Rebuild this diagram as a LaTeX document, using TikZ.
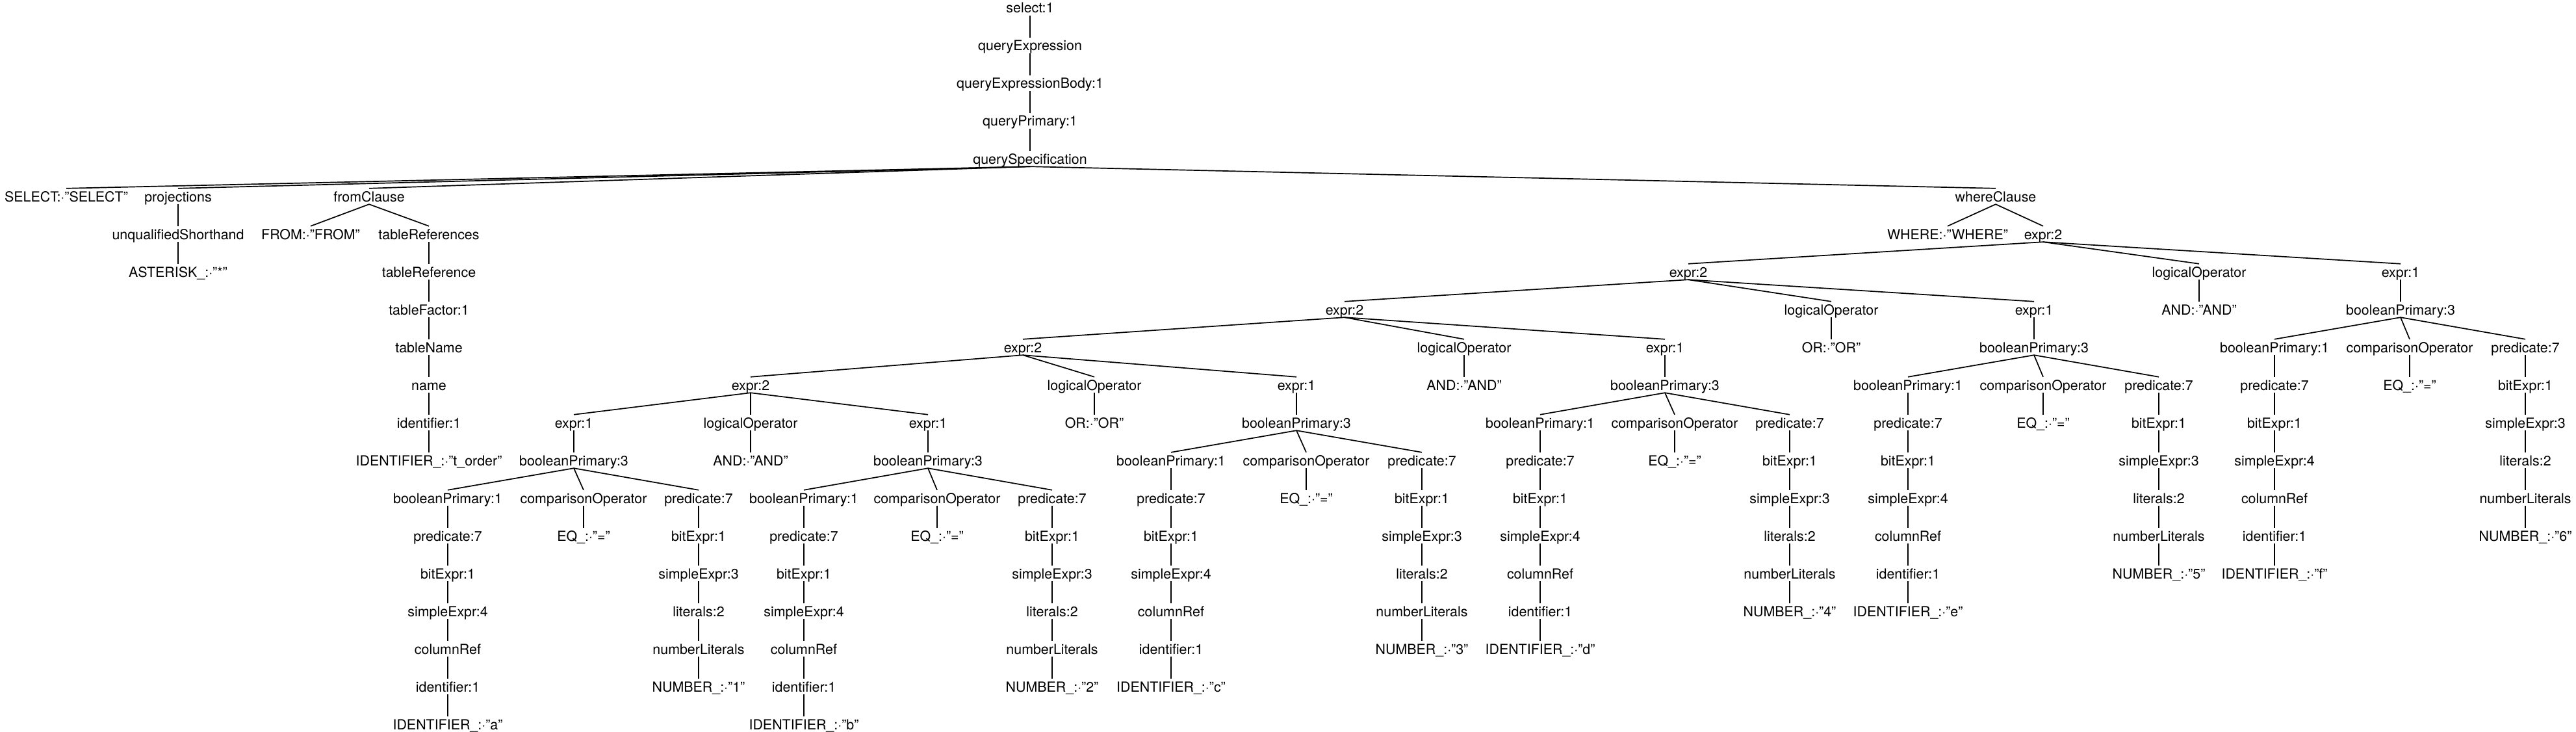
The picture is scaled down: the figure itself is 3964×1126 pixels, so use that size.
\documentclass[tikz,border=0pt]{standalone}
\usepackage{fontspec}
\setmainfont{TeX Gyre Heros}
\tikzset{
  lbl/.style={anchor=base, inner sep=0pt, text height=20pt, text depth=4pt,
    font=\fontsize{21.4pt}{24pt}\selectfont},
  edg/.style={line width=1.7pt, black}
}
\newcommand\lnk[2]{\draw[edg] (#1.south) -- (#2.north);}
\newcommand\mkgroup[8]{%
  \node[lbl] (#1bp) at (#2,{20+58*(#5)}) {booleanPrimary:1};
  \node[lbl] (#1pa) at (#2,{20+58*(#5+1)}) {predicate:7};
  \node[lbl] (#1ba) at (#2,{20+58*(#5+2)}) {bitExpr:1};
  \node[lbl] (#1sa) at (#2,{20+58*(#5+3)}) {simpleExpr:4};
  \node[lbl] (#1cr) at (#2,{20+58*(#5+4)}) {columnRef};
  \node[lbl] (#1id) at (#2,{20+58*(#5+5)}) {identifier:1};
  \node[lbl] (#1ID) at (#2,{20+58*(#5+6)}) {IDENTIFIER\_:·"#6"};
  \node[lbl] (#1co) at (#3,{20+58*(#5)}) {comparisonOperator};
  \node[lbl] (#1eq) at (#3,{20+58*(#5+1)}) {EQ\_:·"="};
  \node[lbl] (#1pb) at (#4,{20+58*(#5)}) {predicate:7};
  \node[lbl] (#1bb) at (#4,{20+58*(#5+1)}) {bitExpr:1};
  \node[lbl] (#1sb) at (#4,{20+58*(#5+2)}) {simpleExpr:3};
  \node[lbl] (#1li) at (#4,{20+58*(#5+3)}) {literals:2};
  \node[lbl] (#1nl) at (#4,{20+58*(#5+4)}) {numberLiterals};
  \node[lbl] (#1NU) at (#4,{20+58*(#5+5)}) {NUMBER\_:·"#7"};
  \lnk{#8}{#1bp}\lnk{#8}{#1co}\lnk{#8}{#1pb}
  \lnk{#1bp}{#1pa}\lnk{#1pa}{#1ba}\lnk{#1ba}{#1sa}\lnk{#1sa}{#1cr}\lnk{#1cr}{#1id}\lnk{#1id}{#1ID}
  \lnk{#1co}{#1eq}
  \lnk{#1pb}{#1bb}\lnk{#1bb}{#1sb}\lnk{#1sb}{#1li}\lnk{#1li}{#1nl}\lnk{#1nl}{#1NU}
}
\begin{document}
\begin{tikzpicture}[x=1pt,y=-1pt]
\useasboundingbox (0,0) rectangle (3964,1126);
\fill[white] (0,0) rectangle (3964,1126);
% top chain
\node[lbl] (q0) at (1585,20) {select:1};
\node[lbl] (q1) at (1585,78) {queryExpression};
\node[lbl] (q2) at (1585,136) {queryExpressionBody:1};
\node[lbl] (q3) at (1585,194) {queryPrimary:1};
\node[lbl] (q4) at (1585,252) {querySpecification};
% row 5
\node[lbl] (sel) at (102,310) {SELECT:·"SELECT"};
\node[lbl] (proj) at (274,310) {projections};
\node[lbl] (from) at (568,310) {fromClause};
\node[lbl] (where) at (3071,310) {whereClause};
% projections / from
\node[lbl] (uqs) at (274,368) {unqualifiedShorthand};
\node[lbl] (ast) at (274,426) {ASTERISK\_:·"*"};
\node[lbl] (fromkw) at (478,368) {FROM:·"FROM"};
\node[lbl] (trs) at (660,368) {tableReferences};
\node[lbl] (tr) at (660,426) {tableReference};
\node[lbl] (tf) at (660,484) {tableFactor:1};
\node[lbl] (tn) at (660,542) {tableName};
\node[lbl] (nm) at (660,600) {name};
\node[lbl] (idf) at (660,658) {identifier:1};
\node[lbl] (IDt) at (660,716) {IDENTIFIER\_:·"t\_order"};
% where
\node[lbl] (wkw) at (2997,368) {WHERE:·"WHERE"};
\node[lbl] (E6) at (3144,368) {expr:2};
\node[lbl] (E7) at (2598,426) {expr:2};
\node[lbl] (LO7) at (3384,426) {logicalOperator};
\node[lbl] (X7) at (3694,426) {expr:1};
\node[lbl] (AND7) at (3384,484) {AND:·"AND"};
\node[lbl] (BP7) at (3694,484) {booleanPrimary:3};
\node[lbl] (E8) at (2069,484) {expr:2};
\node[lbl] (LO8) at (2818,484) {logicalOperator};
\node[lbl] (X8) at (3130,484) {expr:1};
\node[lbl] (OR8) at (2818,542) {OR:·"OR"};
\node[lbl] (BP8) at (3130,542) {booleanPrimary:3};
\node[lbl] (E9) at (1574,542) {expr:2};
\node[lbl] (LO9) at (2253,542) {logicalOperator};
\node[lbl] (X9) at (2562,542) {expr:1};
\node[lbl] (AND9) at (2253,600) {AND:·"AND"};
\node[lbl] (BP9) at (2562,600) {booleanPrimary:3};
\node[lbl] (E10) at (1155,600) {expr:2};
\node[lbl] (LO10) at (1684,600) {logicalOperator};
\node[lbl] (X10) at (1995,600) {expr:1};
\node[lbl] (OR10) at (1684,658) {OR:·"OR"};
\node[lbl] (BP10) at (1995,658) {booleanPrimary:3};
\node[lbl] (Xa) at (883,658) {expr:1};
\node[lbl] (LO11) at (1155,658) {logicalOperator};
\node[lbl] (Xb) at (1428,658) {expr:1};
\node[lbl] (BPa) at (883,716) {booleanPrimary:3};
\node[lbl] (AND11) at (1155,716) {AND:·"AND"};
\node[lbl] (BPb) at (1428,716) {booleanPrimary:3};
% edges
\lnk{q0}{q1}\lnk{q1}{q2}\lnk{q2}{q3}\lnk{q3}{q4}
\lnk{q4}{sel}\lnk{q4}{proj}\lnk{q4}{from}\lnk{q4}{where}
\lnk{proj}{uqs}\lnk{uqs}{ast}
\lnk{from}{fromkw}\lnk{from}{trs}\lnk{trs}{tr}\lnk{tr}{tf}\lnk{tf}{tn}\lnk{tn}{nm}\lnk{nm}{idf}\lnk{idf}{IDt}
\lnk{where}{wkw}\lnk{where}{E6}
\lnk{E6}{E7}\lnk{E6}{LO7}\lnk{E6}{X7}\lnk{LO7}{AND7}\lnk{X7}{BP7}
\lnk{E7}{E8}\lnk{E7}{LO8}\lnk{E7}{X8}\lnk{LO8}{OR8}\lnk{X8}{BP8}
\lnk{E8}{E9}\lnk{E8}{LO9}\lnk{E8}{X9}\lnk{LO9}{AND9}\lnk{X9}{BP9}
\lnk{E9}{E10}\lnk{E9}{LO10}\lnk{E9}{X10}\lnk{LO10}{OR10}\lnk{X10}{BP10}
\lnk{E10}{Xa}\lnk{E10}{LO11}\lnk{E10}{Xb}\lnk{Xa}{BPa}\lnk{LO11}{AND11}\lnk{Xb}{BPb}
% leaf groups
\mkgroup{ga}{689}{898}{1075}{13}{a}{1}{BPa}
\mkgroup{gb}{1237}{1442}{1619}{13}{b}{2}{BPb}
\mkgroup{gc}{1802}{2010}{2188}{12}{c}{3}{BP10}
\mkgroup{gd}{2370}{2577}{2754}{11}{d}{4}{BP9}
\mkgroup{ge}{2936}{3144}{3322}{10}{e}{5}{BP8}
\mkgroup{gf}{3500}{3708}{3886}{9}{f}{6}{BP7}
\end{tikzpicture}
\end{document}
